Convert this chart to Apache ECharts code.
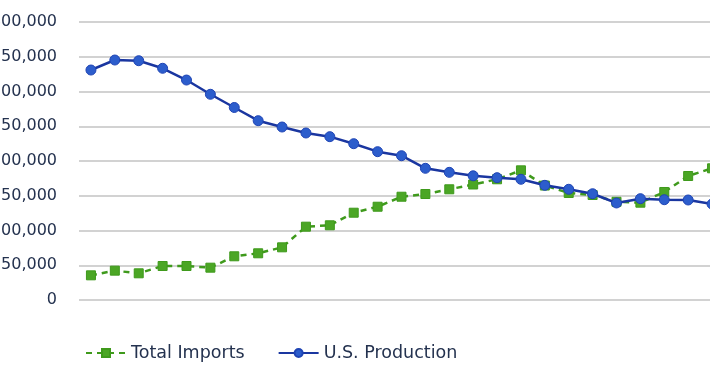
<!DOCTYPE html>
<html>
<head>
<meta charset="utf-8">
<script src="https://cdn.jsdelivr.net/npm/echarts@6/dist/echarts.min.js"></script>
<style>
  html, body { margin: 0; padding: 0; overflow: hidden; background: #fff; }
  #chart { width: 760px; height: 375px; }
</style>
</head>
<body>
<div id="chart"></div>
<script>
// years are not shown on the picture, only used as category keys
const years = ['1986','1987','1988','1989','1990','1991','1992','1993','1994','1995','1996','1997','1998','1999',
  '2000','2001','2002','2003','2004','2005','2006','2007','2008','2009','2010','2011','2012']

const totalImports = [35500, 42200, 38400, 48900, 48900, 46500, 62900, 67200, 75800, 105500, 107500, 125600, 134200,
  148600, 152500, 159300, 166200, 173700, 186600, 164700, 154000, 151100, 141300, 140000, 155400, 178400, 189500]

const usProduction = [330900, 345300, 344300, 333400, 316500, 296000, 277000, 258000, 248900, 240300, 235000, 224900,
  213400, 207600, 189500, 183700, 178700, 176000, 173700, 165000, 159300, 152900, 139600, 145800, 144300, 143900, 138100]

const yTicks = { min: 0, max: 400000, interval: 50000 }

const textColor = '#24324f'
const fontFamily = 'DejaVu Sans'

let elm = document.getElementById('chart')
let myChart = echarts.init(elm)

const options = {
  animation: false,
  textStyle: { fontFamily: fontFamily },
  grid: { left: 79, top: 22, width: 645, height: 278, containLabel: false, outerBoundsMode: 'none' },
  legend: {
    left: 80,
    top: 339,
    itemWidth: 40,
    itemHeight: 10,
    itemGap: 33,
    textStyle: { color: textColor, fontSize: 17.5, fontFamily: fontFamily },
    data: ['Total Imports', 'U.S. Production']
  },
  xAxis: {
    type: 'category',
    data: years,
    boundaryGap: true,
    axisLine: { show: false },
    axisTick: { show: false },
    axisLabel: { show: false }
  },
  yAxis: {
    type: 'value',
    min: yTicks.min,
    max: yTicks.max,
    interval: yTicks.interval,
    axisLine: { show: false },
    axisTick: { show: false },
    axisLabel: {
      margin: 22,
      color: textColor,
      fontSize: 16,
      fontFamily: fontFamily,
      formatter: v => v.toLocaleString('en-US')
    },
    splitLine: { lineStyle: { color: '#d2d2d2', width: 2 } }
  },
  series: [
    {
      name: 'Total Imports',
      type: 'line',
      data: totalImports,
      symbol: 'rect',
      symbolSize: 9,
      lineStyle: { color: '#3f9a1c', width: 2.5, type: [6, 5] },
      itemStyle: { color: '#4ba625', borderColor: '#3f9a1c', borderWidth: 1 },
      z: 2
    },
    {
      name: 'U.S. Production',
      type: 'line',
      data: usProduction,
      symbol: 'circle',
      symbolSize: 10,
      lineStyle: { color: '#1a36a0', width: 2.5 },
      itemStyle: { color: '#2c5dcc', borderColor: '#1f44b4', borderWidth: 1 },
      z: 3
    }
  ]
}

try {
  myChart.setOption(options)
} catch (e) {
  console.error('ECHARTS', e.message)
}
</script>
</body>
</html>
